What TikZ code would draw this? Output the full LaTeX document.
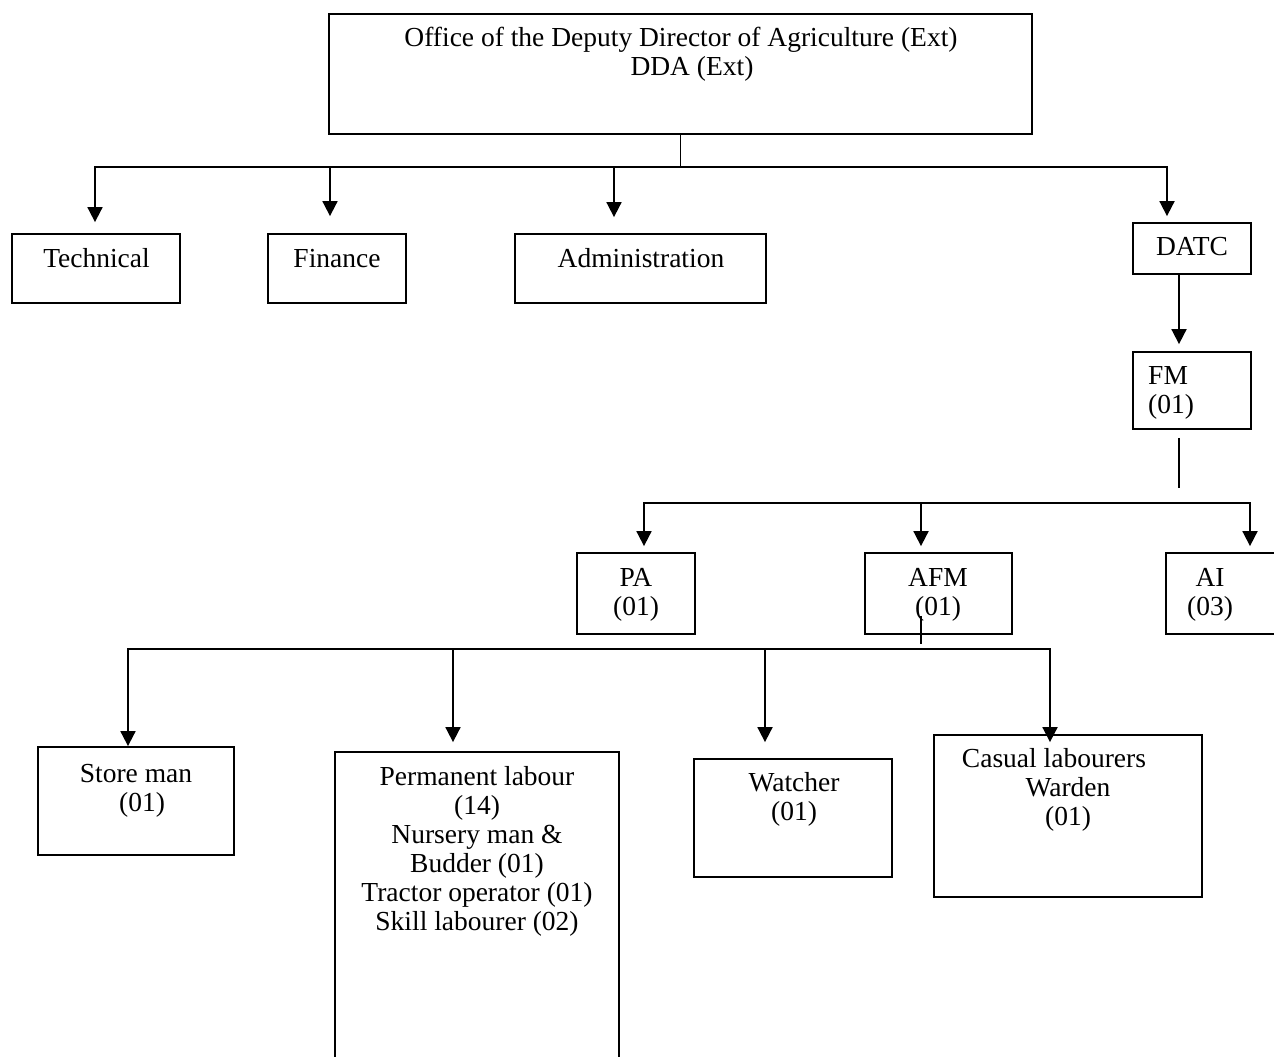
\documentclass[tikz,border=0pt]{standalone}
\usepackage{fontspec}
\setmainfont{Liberation Serif}
\usetikzlibrary{arrows.meta}

\tikzset{
  box/.style={draw, line width=1.8pt, inner sep=0pt, rectangle},
  lbl/.style={inner sep=0pt, anchor=north, align=center,
              font=\fontsize{27.5}{29}\selectfont},
  conn/.style={line width=1.8pt},
  arr/.style={conn, -{Triangle[length=15pt,width=15pt]}},
}

\begin{document}
\begin{tikzpicture}[x=1pt, y=-1pt]
\useasboundingbox (0,0) rectangle (1274,1057);

% ---- boxes ----
\node[box, minimum width=703pt, minimum height=120pt] (top)    at (680.5,74)   {};
\node[box, minimum width=168pt, minimum height=69pt]  (tech)   at (96,268.5)   {};
\node[box, minimum width=138pt, minimum height=69pt]  (fin)    at (337,268.5)  {};
\node[box, minimum width=251pt, minimum height=69pt]  (admin)  at (640.5,268.5){};
\node[box, minimum width=118pt, minimum height=51pt]  (datc)   at (1192,248.5) {};
\node[box, minimum width=118pt, minimum height=77pt]  (fm)     at (1192,390.5) {};
\node[box, minimum width=118pt, minimum height=81pt]  (pa)     at (636,593.5)  {};
\node[box, minimum width=147pt, minimum height=81pt]  (afm)    at (938.5,593.5){};
\node[box, minimum width=124pt, minimum height=81pt]  (ai)     at (1228,593.5) {};
\node[box, minimum width=196pt, minimum height=108pt] (store)  at (136,801)    {};
\node[box, minimum width=284pt, minimum height=348pt] (perm)   at (477,926)    {};
\node[box, minimum width=198pt, minimum height=118pt] (watch)  at (793,818)    {};
\node[box, minimum width=268pt, minimum height=162pt] (casual) at (1068,816)   {};

% ---- labels ----
\node[lbl] (top-t)    at (681,25.7)   {\strut Office of the Deputy Director of Agriculture (Ext)\\\hspace*{22pt}DDA (Ext)};
\node[lbl] (tech-t)   at (96.5,246.7) {\strut Technical};
\node[lbl] (fin-t)    at (337,246.7)  {\strut Finance};
\node[lbl] (admin-t)  at (641,246.7)  {\strut Administration};
\node[lbl] (datc-t)   at (1192,234.7) {\strut DATC};
\node[lbl, anchor=north west, align=left] (fm-t) at (1148,363.7) {\strut FM\\(01)};
\node[lbl] (pa-t)     at (636,565.7)  {\strut PA\\(01)};
\node[lbl] (afm-t)    at (938,565.7)  {\strut AFM\\(01)};
\node[lbl] (ai-t)     at (1210,565.7) {\strut AI\\(03)};
\node[lbl] (store-t)  at (136,761.7)  {\strut Store man\\\hspace*{12pt}(01)};
\node[lbl] (perm-t)   at (477,764.7)  {\strut Permanent labour\\(14)\\Nursery man \&\\Budder (01)\\Tractor operator (01)\\Skill labourer (02)};
\node[lbl] (watch-t)  at (794,770.7)  {\strut Watcher\\(01)};
\node[lbl] (casual-t) at (1068,746.7) {\strut Casual labourers\hspace*{28pt}\\Warden\\(01)};

% ---- bus points ----
\coordinate (bus1) at (0,167);
\coordinate (b2) at (921,503);
\coordinate (b3) at (921,649);

% ---- first level ----
\draw[line width=1.2pt] (top.south) -- (top.south |- bus1);
\draw[arr, shorten >=11pt] (top.south |- bus1) -| ([xshift=-1pt]tech.north);
\draw[arr, shorten >=17pt] (top.south |- bus1) -| ([xshift=-7pt]fin.north);
\draw[arr, shorten >=16pt] (top.south |- bus1) -| ([xshift=-26.5pt]admin.north);
\draw[arr, shorten >=6pt]  (top.south |- bus1) -| ([xshift=-25pt]datc.north);

% ---- DATC to FM ----
\draw[arr, shorten >=7pt] ([xshift=-13pt]datc.south) -- ([xshift=-13pt]fm.north);
\draw[conn] ([xshift=-13pt,yshift=-8pt]fm.south) -- ++(0,50);

% ---- second level ----
\draw[arr, shorten >=6pt] (b2) -| ([xshift=8pt]pa.north);
\draw[arr, shorten >=6pt] (b2) -- ([xshift=-17.5pt]afm.north);
\draw[arr, shorten >=6pt] (b2) -| ([xshift=22pt]ai.north);

% ---- third level ----
\draw[line width=1.2pt] ([xshift=-17.5pt,yshift=19pt]afm.south) -- ++(0,28);
\draw[arr] (b3) -| ([xshift=-8pt]store.north);
\draw[arr, shorten >=9pt]  (b3) -| ([xshift=-24pt]perm.north);
\draw[arr, shorten >=16pt] (b3) -| ([xshift=-28pt]watch.north);
\draw[arr, shorten >=-8pt] (b3) -| ([xshift=-18pt]casual.north);
\end{tikzpicture}
\end{document}
